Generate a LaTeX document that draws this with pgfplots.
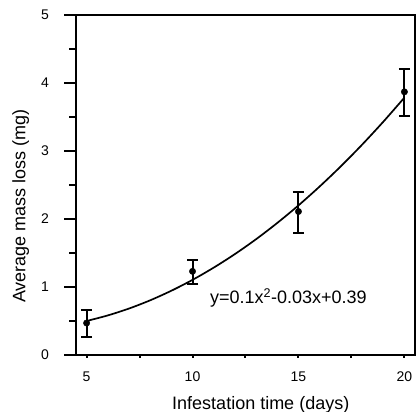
\documentclass[border=0pt]{standalone}
\usepackage{fontspec}
\setmainfont{Liberation Sans}
\usepackage{pgfplots}
\pgfplotsset{compat=1.18}
\begin{document}
\begin{tikzpicture}[x=1pt,y=1pt]
\begin{axis}[
  at={(0pt,0pt)}, anchor=south west,
  width=339pt, height=340pt, scale only axis,
  xmin=4.5, xmax=20.5, ymin=0, ymax=5,
  xtick={5,10,15,20}, minor xtick={7.5,12.5,17.5},
  ytick={0,1,2,3,4,5}, minor ytick={0.5,1.5,2.5,3.5,4.5},
  tick align=outside,
  xtick pos=bottom, ytick pos=left,
  x tick style={/pgfplots/major tick length=3pt,/pgfplots/minor tick length=3pt},
  y tick style={/pgfplots/major tick length=11.5pt,/pgfplots/minor tick length=6.5pt},
  every tick/.style={black, line width=2pt},
  axis line style={line width=2pt},
  /pgf/number format/assume math mode=true,
  ticklabel style={font=\fontsize{14}{14}\selectfont},
  xticklabel style={anchor=north, inner sep=0pt, yshift=-12pt},
  yticklabel style={anchor=east, inner sep=0pt, xshift=-22.5pt},
  xlabel={Infestation time (days)},
  ylabel={Average mass loss (mg)},
  label style={font=\fontsize{18}{18}\selectfont},
  xlabel style={at={(axis description cs:0.545,-0.159)}, anchor=base, inner sep=0pt},
  ylabel style={at={(axis description cs:-0.149,0.438)}, anchor=base, inner sep=0pt, rotate=0},
  clip=false,
]
\addplot[black, line width=1.7pt, smooth] coordinates {
 (5,0.500) (6,0.582) (7,0.683) (8,0.804) (9,0.945) (10,1.105)
 (11,1.285) (12,1.484) (13,1.703) (14,1.942) (15,2.200) (16,2.478)
 (17,2.775) (18,3.092) (19,3.429) (20,3.785)};
\addplot[black, only marks, mark=*, mark size=3.2pt,
  error bars/.cd, y dir=both, y explicit,
  error bar style={line width=2pt, black},
  error mark options={rotate=90, mark size=5.5pt, line width=2pt, black}]
  coordinates {
  (5,0.47) += (0,0.19) -= (0,0.20)
  (10,1.23) += (0,0.16) -= (0,0.18)
  (15,2.11) += (0,0.29) -= (0,0.31)
  (20,3.87) += (0,0.34) -= (0,0.35)
  };
\node[anchor=base west, inner sep=0pt, font=\fontsize{18}{18}\selectfont]
  at (axis cs:10.82,0.75) {y=0.1x\textsuperscript{2}-0.03x+0.39};
\end{axis}
\pgfresetboundingbox
\path (-76pt,-57pt) rectangle (340pt,355pt);
\end{tikzpicture}
\end{document}
